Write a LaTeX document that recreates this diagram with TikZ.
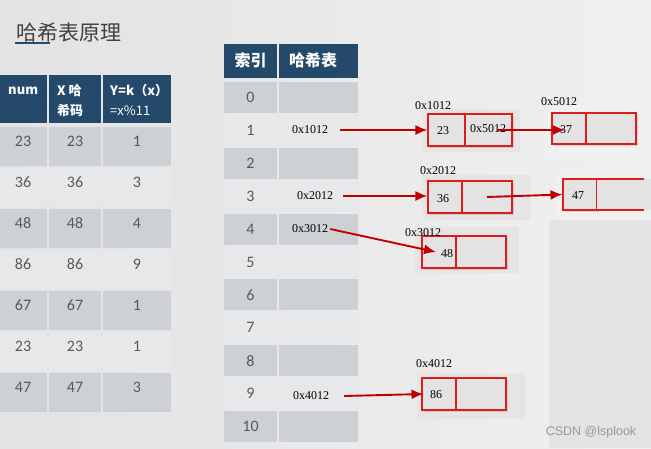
\documentclass[tikz,border=0pt]{standalone}
\usepackage{fontspec}
\setmainfont{Carlito}
\newfontfamily\cjk{Noto Sans CJK SC}
\newfontfamily\hexf{Liberation Serif}
\newfontfamily\wmf{Liberation Sans}
\usetikzlibrary{arrows.meta,shadows}
\definecolor{hdr}{HTML}{25496A}
\definecolor{rowd}{HTML}{CDD0D5}
\definecolor{rowl}{HTML}{E7E8EA}
\definecolor{numc}{HTML}{595959}
\definecolor{arr}{HTML}{C00000}
\definecolor{boxr}{HTML}{E01B1B}
\definecolor{bgbox}{HTML}{E3E3E3}
\tikzset{
  lnum/.style={text=numc,font=\fontsize{16}{16}\selectfont,inner sep=0pt},
  inum/.style={text=numc,font=\fontsize{16}{16}\selectfont,inner sep=0pt},
  htext/.style={text=white,font=\fontsize{13}{13}\selectfont\bfseries\cjk,inner sep=0pt,anchor=west},
  hex/.style={text=black,font=\fontsize{12}{12}\selectfont\hexf,inner sep=0pt},
  cellbox/.style={draw=boxr,line width=1.1pt,fill=bgbox,inner sep=0pt,
    drop shadow={opacity=0.25,shadow xshift=2pt,shadow yshift=-2pt}},
  arrline/.style={draw=arr,line width=1.9pt,-{Latex[length=12pt,width=10pt]}},
}
\begin{document}
\begin{tikzpicture}[x=1pt,y=-1pt]
\useasboundingbox (0,0) rectangle (651,448);
% background
\shade[left color=black!11,middle color=white,right color=black!6] (0,0) rectangle (651,448);
\fill[black!11] (549,220) rectangle (651,448);
% title
\node[anchor=west,inner sep=0pt,text=black!75,font=\fontsize{21}{21}\selectfont\cjk] (title) at (16,33) {哈希表原理};
\draw[hdr,line width=2pt] (15,43) -- (50,43);

% left table header
\fill[hdr] (0,75) rectangle (47,123);
\fill[hdr] (49,75) rectangle (101,123);
\fill[hdr] (103,75) rectangle (171,123);
\node[htext] (hnum) at (8,91) {num};
\node[htext] (hx1) at (57,91) {X 哈};
\node[htext] (hx2) at (57,111) {希码};
\node[htext] (hy1) at (110,91) {Y=k（x）};
\node[htext,font=\fontsize{13}{13}\selectfont\cjk] (hy2) at (110,111) {=x\%11};
% left table rows
\foreach \a/\b/\c [count=\i from 0] in {23/23/1,36/36/3,48/48/4,86/86/9,67/67/1,23/23/1,47/47/3}{
  \pgfmathsetmacro\t{127+41*\i}
  \ifodd\i \def\rc{rowl}\else\def\rc{rowd}\fi
  \fill[\rc] (0,\t) rectangle (47,\t+39);
  \fill[\rc] (49,\t) rectangle (101,\t+39);
  \fill[\rc] (103,\t) rectangle (171,\t+39);
  \node[lnum] (la\i) at (23,\t+14) {\a};
  \node[lnum] (lb\i) at (75,\t+14) {\b};
  \node[lnum] (lc\i) at (137,\t+14) {\c};
}

% middle table header
\fill[hdr] (224,44) rectangle (277,78);
\fill[hdr] (279,44) rectangle (358,78);
\node[text=white,font=\fontsize{16}{16}\selectfont\bfseries\cjk,inner sep=0pt] (hidx) at (250.5,60) {索引};
\node[text=white,font=\fontsize{16}{16}\selectfont\bfseries\cjk,inner sep=0pt,anchor=west] (hhash) at (289,60) {哈希表};
\foreach \i in {0,...,10}{
  \pgfmathsetmacro\t{82+32.9*\i}
  \ifodd\i \def\rc{rowl}\else\def\rc{rowd}\fi
  \fill[\rc] (224,\t) rectangle (277,\t+31);
  \fill[\rc] (279,\t) rectangle (358,\t+31);
  \node[inum] (idx\i) at (250.5,\t+15.5) {\i};
}
\node[hex] (h1) at (310,130) {0x1012};
\node[hex] (h3) at (315,196) {0x2012};
\node[hex] (h4) at (310,229) {0x3012};
\node[hex] (h9) at (311,396) {0x4012};

% shadow backgrounds behind boxes
\fill[black!10] (423,109) rectangle (520,152);
\fill[black!6] (548,105) rectangle (651,157);
\fill[black!10] (423,175) rectangle (530,220);
\fill[black!6] (555,175) rectangle (651,220);
\fill[black!10] (415,227) rectangle (519,273);
\fill[black!10] (417,373) rectangle (526,419);

% boxes
\node[cellbox,minimum width=37pt,minimum height=32pt] (b1a) at (446.5,130) {};
\node[cellbox,minimum width=47pt,minimum height=32pt] (b1b) at (488.5,130) {};
\node[cellbox,minimum width=34pt,minimum height=31pt] (b2a) at (569,128.5) {};
\node[cellbox,minimum width=50pt,minimum height=31pt] (b2b) at (611,128.5) {};
\node[cellbox,minimum width=34pt,minimum height=32pt] (b3a) at (445,197) {};
\node[cellbox,minimum width=50pt,minimum height=32pt] (b3b) at (487,197) {};
\node[cellbox,minimum width=34pt,minimum height=31pt] (b4a) at (580,194.5) {};
\fill[bgbox] (597,179) rectangle (651,210);
\draw[boxr,line width=1.1pt] (597,179) -- (644,179) (597,210) -- (644,210);
\node[cellbox,minimum width=34pt,minimum height=32pt] (b5a) at (439,252) {};
\node[cellbox,minimum width=50pt,minimum height=32pt] (b5b) at (481,252) {};
\node[cellbox,minimum width=34pt,minimum height=32pt] (b6a) at (439,394) {};
\node[cellbox,minimum width=50pt,minimum height=32pt] (b6b) at (481,394) {};

% box labels
\node[hex] (l1) at (433,106) {0x1012};
\node[hex] (l2) at (559,102) {0x5012};
\node[hex] (l3) at (438,171) {0x2012};
\node[hex] (l5) at (423,233) {0x3012};
\node[hex] (l6) at (434,364) {0x4012};

% box contents
\node[hex] (v23) at (443,131) {23};
\node[hex] (v5012) at (488,129) {0x5012};
\node[hex] (v37) at (566,130) {37};
\node[hex] (v36) at (443,199) {36};
\node[hex] (v47) at (578,196) {47};
\node[hex] (v48) at (447,254) {48};
\node[hex] (v86) at (436,395) {86};

% arrows
\coordinate (s2) at (497,130);
\coordinate (t2) at (565,130);
\coordinate (s4) at (487,197);
\coordinate (t5) at (436,252);
\draw[arrline] ([xshift=12pt]h1.east) -- (b1a.west);
\draw[arrline] (s2) -- (t2);
\draw[arrline] ([xshift=10pt]h3.east) -- (b3a.west|-h3.east);
\draw[arrline] (s4) -- (b4a.west);
\draw[arrline] ([xshift=2pt]h4.east) -- (t5);
\draw[arrline] ([xshift=15pt]h9.east) -- ([xshift=2pt]b6a.west);

% watermark
\node[text=black!40,font=\fontsize{12.5}{12.5}\selectfont\wmf,inner sep=0pt] (wm) at (591,432) {CSDN @lsplook};
\end{tikzpicture}
\end{document}
